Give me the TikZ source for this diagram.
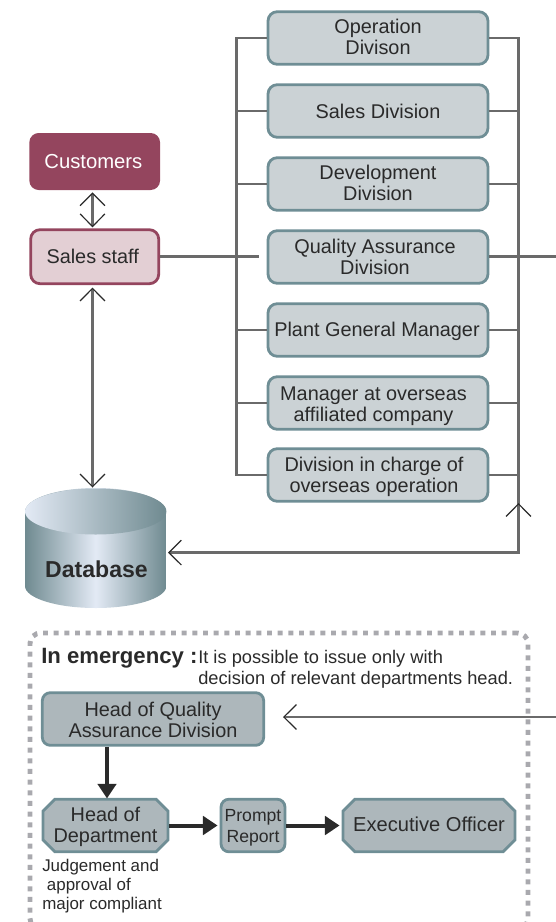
\documentclass[tikz,border=0pt]{standalone}
\usepackage{fontspec}
\setmainfont{Liberation Sans}
\usetikzlibrary{arrows.meta,shapes.misc,calc}
\definecolor{boxfill}{HTML}{CBD2D5}
\definecolor{boxedge}{HTML}{6F8E95}
\definecolor{darkfill}{HTML}{ADB7BB}
\definecolor{wine}{HTML}{94455E}
\definecolor{pinkfill}{HTML}{E3CFD4}
\definecolor{linegray}{HTML}{6A6A6A}
\definecolor{dotgray}{HTML}{A9A9AE}
\definecolor{txt}{HTML}{2A2A2A}
\definecolor{cyldark}{HTML}{6F8A90}
\definecolor{cyllight}{HTML}{E3EAF5}
\newcommand\lift[2]{\smash{\raisebox{\dimexpr#1-3.6pt\relax}{\begin{tabular}{@{}c@{}}#2\end{tabular}}}}
\tikzset{
  x=0.75pt,y=-0.75pt,
  every node/.style={font=\fontsize{14.9pt}{15.8pt}\selectfont,text=txt,align=center,inner sep=0pt},
  divbox/.style={draw=boxedge,fill=boxfill,line width=2.1pt,rounded corners=7pt,minimum width=165pt,minimum height=39.5pt},
  bus/.style={draw=linegray,line width=2.2pt},
  lnk/.style={draw=linegray,line width=2pt},
  barb/.tip={Straight Barb[length=9.4pt,width=18.6pt,line width=0.9pt,color=txt]},
  boldarrow/.style={draw=txt,line width=3pt,-{Triangle[length=11pt,width=13.8pt]}},
  headbox/.style={draw=boxedge,fill=darkfill,line width=2.1pt,rounded corners=6pt},
  octa/.style={draw=boxedge,fill=darkfill,line width=2.1pt,chamfered rectangle,chamfered rectangle angle=45,chamfered rectangle xsep=9pt,chamfered rectangle ysep=9pt},
}
\begin{document}
\begin{tikzpicture}
\useasboundingbox (0,0) rectangle (556,922);
% buses
\coordinate (lt) at (236.8,38); \coordinate (lb) at (236.8,475);
\coordinate (rt) at (518.5,38); \coordinate (rb) at (518.5,552.6);
% emergency frame
\node[draw=dotgray,line width=3.7pt,dash pattern=on 3.7pt off 4.3pt,rounded corners=8pt,minimum width=373.5pt,minimum height=222pt,anchor=north west] (frame) at (27.5,630.5) {};
% division boxes
\node[divbox] (d1) at (378,38) {\lift{-1.1pt}{Operation\\Divison}};
\node[divbox] (d2) at (378,111) {\lift{-2.25pt}{Sales Division}};
\node[divbox] (d3) at (378,184) {\lift{-1.6pt}{Development\\Division}};
\node[divbox] (d4) at (378,257) {\lift{-2.25pt}{Quality Assurance\\Division}\hspace{4.5pt}};
\node[divbox] (d5) at (378,330) {\lift{-1.5pt}{Plant General Manager}\hspace{1.5pt}};
\node[divbox] (d6) at (378,403) {\lift{-3pt}{Manager at overseas\\affiliated company}\hspace{6.75pt}};
\node[divbox] (d7) at (378,475) {\lift{-2.25pt}{Division in charge of\\overseas operation}\hspace{6pt}};
% customers / sales
\node[fill=wine,rounded corners=7pt,minimum width=98pt,minimum height=42.75pt,text=white,font=\fontsize{15.2pt}{16pt}\selectfont] (cust) at (94.7,161.5) {Customers\hspace{2pt}};
\node[draw=wine,fill=pinkfill,line width=2.1pt,rounded corners=7pt,minimum width=96pt,minimum height=40.5pt] (sales) at (94.7,256.7) {Sales staff\hspace{3pt}};
% connectors
\draw[bus] (d1.west) -- (lt) -- (lb) -- (d7.west);
\foreach \n in {d2,d3,d5,d6} \draw[bus] (\n.west) -- (\n.west -| lt);
\coordinate (sl) at (259,257);
\draw[bus] (sales.east) -- (sales.east -| sl);
\draw[bus] (d1.east) -- (rt) -- (rb) -- (170,552.6);
\foreach \n in {d2,d3,d5,d6,d7} \draw[bus] (\n.east) -- (\n.east -| rt);
\coordinate (rr) at (556,256.5);
\draw[bus] (d4.east |- rr) -- (rr);
% cylinder
\shade[left color=cyldark,right color=cyldark,middle color=cyllight] (25,512) -- (25,586) arc[start angle=180,end angle=0,x radius=70.7,y radius=22] -- (166.4,512) arc[start angle=0,end angle=-180,x radius=70.7,y radius=24] -- cycle;
\shade[left color=cyllight,right color=cyldark] (95.7,511.5) ellipse[x radius=70.7,y radius=23];
\node[font=\fontsize{17.3pt}{18pt}\selectfont\bfseries] (db) at (96.5,569) {Database};
\coordinate (dbtop) at (92.5,487.5);
\coordinate (dbright) at (168,552.6);
% arrows
\coordinate (c1) at (92.5,192.3); \coordinate (c2) at (92.5,227.3);
\coordinate (s1) at (92.5,287.5);
\draw[lnk,barb-barb] (c1) -- (c2);
\draw[lnk,barb-barb] (s1) -- (dbtop);
\draw[lnk,-barb] (170,552.6) -- (dbright);
\coordinate (ru) at (518.5,503);
\draw[lnk,-barb] (518.5,520) -- (ru);
% emergency content
\node[anchor=west,font=\fontsize{16.6pt}{18pt}\selectfont\bfseries] (em) at (41,658) {In emergency :};
\node[anchor=north west,align=left,font=\fontsize{13.7pt}{15.7pt}\selectfont] (emt) at (198,650) {It is possible to issue only with\\decision of relevant departments head.};
\node[headbox,minimum width=166pt,minimum height=39.5pt] (h1) at (153,719) {\lift{-3pt}{Head of Quality\hspace{3pt}\\Assurance Division}};
\node[octa,minimum width=93.75pt,minimum height=39.5pt] (h2) at (105.5,825.5) {\lift{-1.5pt}{Head of\\Department}};
\node[headbox,minimum width=48pt,minimum height=39.5pt,font=\fontsize{13.2pt}{15.5pt}\selectfont] (h3) at (253,825.5) {\lift{-1pt}{Prompt\\Report}};
\node[octa,minimum width=129pt,minimum height=39.5pt,font=\fontsize{15.1pt}{16pt}\selectfont] (h4) at (429,825.5) {\lift{-1.5pt}{Executive Officer}};
\node[anchor=north west,align=left,font=\fontsize{12.7pt}{14.4pt}\selectfont] (note) at (42,859) {Judgement and\\\ approval of\\major compliant};
\coordinate (rr2) at (556,717); \coordinate (h1t) at (283,717);
\draw[lnk,-barb] (rr2) -- (h1t);
\draw[boldarrow,shorten >=-0.5pt] (h1.south -| 107,0) -- (h2.north -| 107,0);
\draw[boldarrow,shorten >=1.5pt] (h2.east) -- (h3.west);
\draw[boldarrow,shorten >=1.5pt] (h3.east) -- (h4.west);
\end{tikzpicture}
\end{document}
